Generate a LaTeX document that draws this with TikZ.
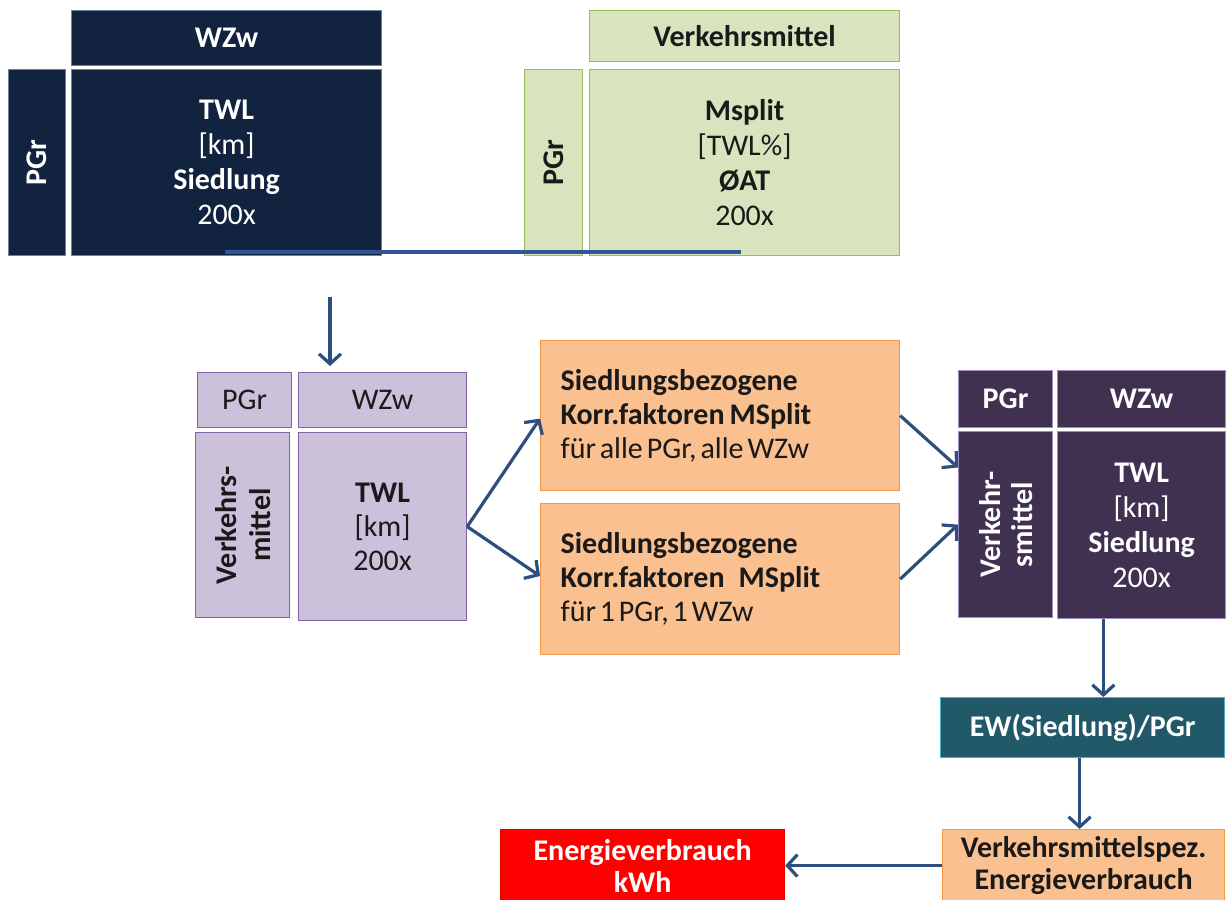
\documentclass[tikz,border=0pt]{standalone}
\usepackage{fontspec}
\setmainfont{Carlito}
\usetikzlibrary{arrows.meta,calc}
\definecolor{navy}{HTML}{12233F}
\definecolor{navyline}{HTML}{6A82A6}
\definecolor{grfill}{HTML}{D7E4BD}
\definecolor{grline}{HTML}{9BBB59}
\definecolor{pufill}{HTML}{CCC1DA}
\definecolor{puline}{HTML}{8064A2}
\definecolor{orfill}{HTML}{FAC090}
\definecolor{orline}{HTML}{F79646}
\definecolor{dpfill}{HTML}{403151}
\definecolor{dpline}{HTML}{A08CC0}
\definecolor{tefill}{HTML}{215968}
\definecolor{teline}{HTML}{4BACC6}
\definecolor{rdline}{HTML}{E00000}
\definecolor{arrcol}{HTML}{2C4F7E}
\definecolor{lincol}{HTML}{2F5597}
\definecolor{txt}{HTML}{1A1A1A}
\newcommand{\tightsp}{\frenchspacing\spaceskip=0.13em\relax}
\newcommand{\midsp}{\spaceskip=0.17em\relax}
\begin{document}
\begin{tikzpicture}[x=1pt,y=-1pt,
  every node/.style={font=\fontsize{30}{34}\selectfont, align=center, inner sep=0pt},
  bx/.style={rectangle, anchor=north west, line width=1.2pt},
  navybox/.style={bx, fill=navy, draw=navyline, text=white},
  grbox/.style={bx, fill=grfill, draw=grline, text=txt},
  pubox/.style={bx, fill=pufill, draw=puline, text=txt},
  orbox/.style={bx, fill=orfill, draw=orline, text=txt},
  dpbox/.style={bx, fill=dpfill, draw=dpline, text=white},
  tebox/.style={bx, fill=tefill, draw=teline, text=white, font=\fontsize{30}{34}\selectfont\bfseries},
  rdbox/.style={bx, fill=red, draw=rdline, text=white, font=\fontsize{30}{32}\selectfont\bfseries},
  arr/.style={draw=arrcol, line width=3.2pt, -{Straight Barb[length=10pt,width=22pt]}},
  lin/.style={draw=lincol, line width=3.5pt}
]
\useasboundingbox (0,0) rectangle (1230,899);
\fill[white] (0,0) rectangle (1230,899);

% top left navy block
\node[navybox, minimum width=310, minimum height=55, font=\fontsize{30}{34}\selectfont\bfseries] (wzwA) at (71,10) {WZw};
\node[navybox, minimum width=57, minimum height=186] (pgrA) at (8,69) {};
\node[rotate=90, text=white, font=\fontsize{30}{34}\selectfont\bfseries] (pgrAt) at (pgrA.center) {PGr};
\node[navybox, minimum width=310, minimum height=186, font=\fontsize{30}{35}\selectfont] (twlA) at (71,69) {\textbf{TWL}\\{}[km]\\\textbf{Siedlung}\\200x};

% top right green block
\node[grbox, minimum width=310, minimum height=51, font=\fontsize{30}{34}\selectfont\bfseries] (vmB) at (589,10) {Verkehrsmittel};
\node[grbox, minimum width=58, minimum height=186] (pgrB) at (524,69) {};
\node[rotate=90, text=txt, font=\fontsize{30}{34}\selectfont\bfseries] (pgrBt) at (pgrB.center) {PGr};
\node[grbox, minimum width=310, minimum height=186, font=\fontsize{30}{35}\selectfont] (msB) at (589,69) {\textbf{Msplit}\\{}[TWL\%]\\\textbf{ØAT}\\200x};

% connecting line under top blocks
\coordinate (l1) at (225,252);
\coordinate (l2) at (741,252);
\draw[lin] (l1) -- (l2);

% purple block
\node[pubox, minimum width=94, minimum height=55] (pgrC) at (197,372) {PGr};
\node[pubox, minimum width=168, minimum height=55] (wzwC) at (298,372) {WZw};
\node[pubox, minimum width=94, minimum height=185] (vmC) at (195,432) {};
\node[rotate=90, text=txt, font=\fontsize{30}{34}\selectfont\bfseries] (vmCt) at (vmC.center) {Verkehrs-\\mittel};
\node[pubox, minimum width=168, minimum height=188, font=\fontsize{30}{34}\selectfont] (twlC) at (298,432) {\textbf{TWL}\\{}[km]\\200x};

\coordinate (a0) at (330,297);
\coordinate (a1) at (330,366);
\draw[arr] (a0) -- (a1);

% orange correction boxes
\node[orbox, minimum width=359, minimum height=150, text width=319, inner xsep=20pt, align=left] (korA) at (540,340) {\textbf{Siedlungsbezogene}\\{\midsp\textbf{Korr.faktoren MSplit}}\\{\tightsp für alle PGr, alle WZw}};
\node[orbox, minimum width=359, minimum height=151, text width=319, inner xsep=20pt, align=left] (korB) at (540,503) {\textbf{Siedlungsbezogene}\\\textbf{Korr.faktoren\hspace{14pt}MSplit}\\{\tightsp für 1 PGr, 1 WZw}};

\draw[arr] (twlC.east) -- ($(korA.south west)!0.48!(korA.north west)$);
\draw[arr] (twlC.east) -- ($(korB.north west)!0.48!(korB.south west)$);

% dark purple block
\node[dpbox, minimum width=94, minimum height=57, font=\fontsize{30}{34}\selectfont\bfseries] (pgrD) at (958,370) {PGr};
\node[dpbox, minimum width=168, minimum height=57, font=\fontsize{30}{34}\selectfont\bfseries] (wzwD) at (1057,370) {WZw};
\node[dpbox, minimum width=94, minimum height=186] (vmD) at (958,431) {};
\node[rotate=90, text=white, font=\fontsize{30}{32}\selectfont\bfseries] (vmDt) at (vmD.center) {Verkehr-\\smittel};
\node[dpbox, minimum width=168, minimum height=187, font=\fontsize{30}{35}\selectfont] (twlD) at (1057,431) {\textbf{TWL}\\{}[km]\\\textbf{Siedlung}\\200x};

\draw[arr] (korA.east) -- ($(vmD.north west)!0.195!(vmD.south west)$);
\draw[arr] (korB.east) -- (vmD.west);

% EW box
\node[tebox, minimum width=284, minimum height=60] (ew) at (940,697) {EW(Siedlung)/PGr};
\coordinate (d1) at ($(twlD.south west)!0.274!(twlD.south east)$);
\draw[arr] (d1) -- (d1 |- ew.north);

% Verkehrsmittelspez.
\node[orbox, minimum width=282, minimum height=72, font=\fontsize{30}{32}\selectfont\bfseries] (vs) at (942,829) {Verkehrsmittelspez.\\Energieverbrauch};
\coordinate (d2) at ($(ew.south)+(-3,0)$);
\draw[arr] (d2) -- (d2 |- vs.north);

% Energieverbrauch red
\node[rdbox, minimum width=284, minimum height=72] (en) at (500,829) {Energieverbrauch\\kWh};
\draw[arr] (vs.west) -- (en.east);
\end{tikzpicture}
\end{document}
